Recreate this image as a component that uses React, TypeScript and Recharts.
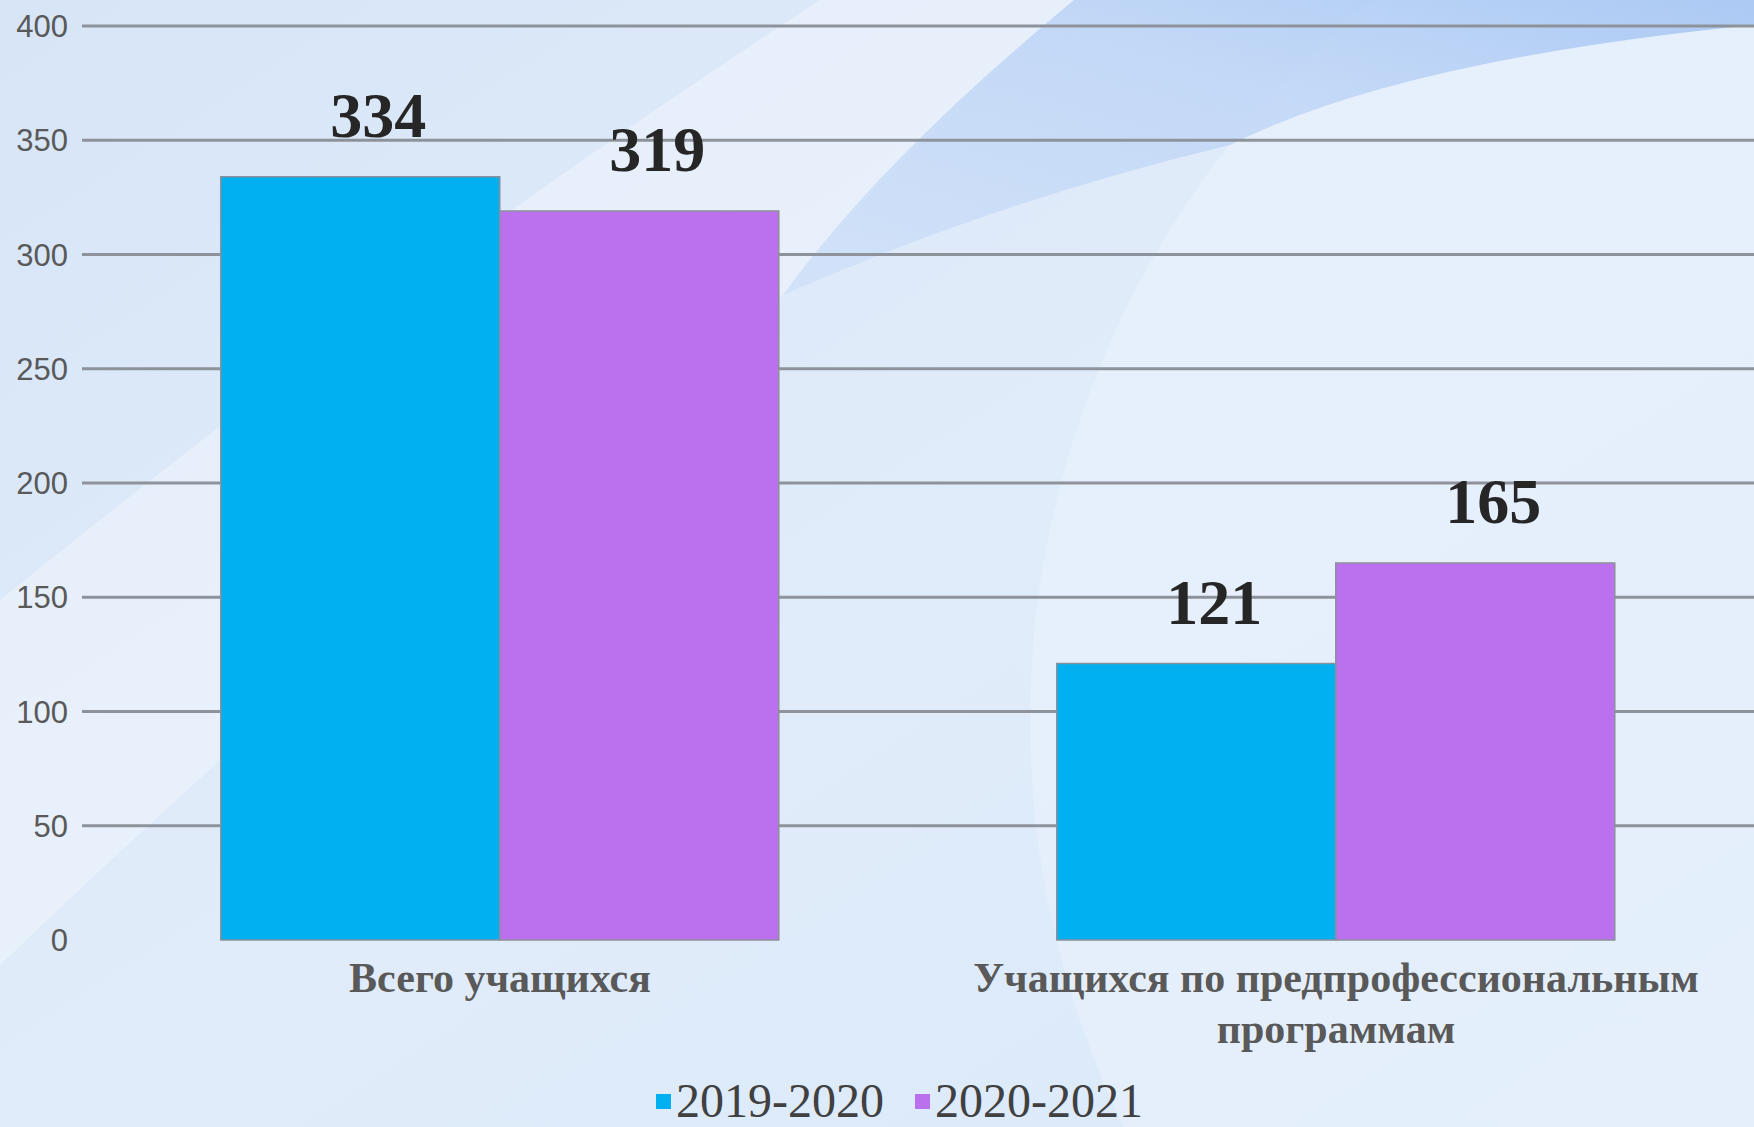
import { BarChart, Bar, XAxis, YAxis, CartesianGrid, Legend, LabelList, Text } from 'recharts';

const categories = ['Всего учащихся', 'Учащихся по предпрофессиональным программам'];
const seriesNames = ['2019-2020', '2020-2021'];
const values2019 = [334, 121];
const values2020 = [319, 165];
const yTicks = [0, 50, 100, 150, 200, 250, 300, 350, 400];
const gridValues = [50, 100, 150, 200, 250, 300, 350, 400];

const colors = ['#00B0F0', '#BB71EE'];

const chartData = categories.map((category, i) => ({
  category,
  s1: values2019[i],
  s2: values2020[i],
}));

const serif = '"Liberation Serif", "Times New Roman", serif';
const catStyle = { fontFamily: serif, fontWeight: 'bold' as const, fontSize: '42px' };

function CategoryTick(props: any) {
  const { x, y, payload } = props;
  return (
    <Text
      x={x}
      y={y + 22}
      width={780}
      textAnchor="middle"
      verticalAnchor="start"
      lineHeight={51}
      style={catStyle}
      fill="#595959"
    >
      {payload.value}
    </Text>
  );
}

function renderValue(p: any) {
  return (
    <text
      x={p.x + p.width / 2 + 18}
      y={p.y - 40}
      textAnchor="middle"
      fontFamily={serif}
      fontWeight="bold"
      fontSize={64}
      fill="#262626"
    >
      {p.value}
    </text>
  );
}

function renderLegend(props: any) {
  const { payload } = props;
  return (
    <div style={{ display: 'flex', alignItems: 'center', height: 40 }}>
      {payload.map((entry: any) => (
        <div key={entry.value} style={{ display: 'flex', alignItems: 'center', marginRight: 31 }}>
          <span style={{ display: 'inline-block', width: 15, height: 15, background: entry.color, marginRight: 5 }} />
          <span style={{ fontFamily: serif, fontSize: 48, lineHeight: '40px', color: '#404040' }}>
            {entry.value}
          </span>
        </div>
      ))}
    </div>
  );
}

function Background() {
  return (
    <svg width={1754} height={1127} style={{ position: 'absolute', left: 0, top: 0 }}>
      <defs>
        <linearGradient id="bg" x1="0" y1="0" x2="1" y2="1">
          <stop offset="0" stopColor="#d7e5f7" />
          <stop offset="0.5" stopColor="#e1ecfa" />
          <stop offset="1" stopColor="#d9e9f9" />
        </linearGradient>
        <linearGradient id="band" x1="0" y1="1" x2="1" y2="0">
          <stop offset="0" stopColor="#cfe0f8" />
          <stop offset="0.6" stopColor="#bcd4f6" />
          <stop offset="1" stopColor="#9dc0f2" />
        </linearGradient>
      </defs>
      <rect width={1754} height={1127} fill="url(#bg)" />
      <circle cx={1960} cy={720} r={930} fill="#e8f1fc" opacity={0.7} />
      <path d="M 0 965 Q 380 600 783 295 Q 900 150 1074 0 L 820 0 Q 420 260 0 600 Z" fill="#ffffff" opacity={0.3} />
      <path d="M 783 295 Q 880 160 1074 0 L 1754 0 L 1754 25 Q 1400 60 1230 145 Q 1000 200 783 295 Z" fill="url(#band)" opacity={0.8} />
    </svg>
  );
}

export default function App() {
  return (
    <div style={{ position: 'fixed', left: 0, top: 0, width: 1754, height: 1127, overflow: 'hidden' }}>
      <Background />
      <div style={{ position: 'absolute', left: 0, top: 0 }}>
        <BarChart
          width={1754}
          height={1127}
          data={chartData}
          margin={{ top: 26, right: 0, left: 0, bottom: 47 }}
          barCategoryGap="16.6%"
          barGap={0}
        >
          <CartesianGrid vertical={false} horizontalValues={gridValues} stroke="#8e939b" strokeWidth={3} />
          <XAxis
            dataKey="category"
            axisLine={false}
            tickLine={false}
            tickSize={0}
            tickMargin={0}
            height={100}
            interval={0}
            tick={<CategoryTick />}
          />
          <YAxis
            domain={[0, 400]}
            ticks={yTicks}
            width={82}
            axisLine={false}
            tickLine={false}
            tickSize={6}
            tickMargin={8}
            tick={{ fill: '#595959', fontSize: 31, fontFamily: '"Liberation Sans", Arial, sans-serif' }}
          />
          <Legend
            verticalAlign="bottom"
            content={renderLegend}
            wrapperStyle={{ left: 656, top: 1081, width: 560, height: 40 }}
          />
          <Bar dataKey="s1" name={seriesNames[0]} fill={colors[0]} stroke="#8a9099" strokeWidth={1.5} isAnimationActive={false}>
            <LabelList dataKey="s1" content={renderValue} />
          </Bar>
          <Bar dataKey="s2" name={seriesNames[1]} fill={colors[1]} stroke="#8a9099" strokeWidth={1.5} isAnimationActive={false}>
            <LabelList dataKey="s2" content={renderValue} />
          </Bar>
        </BarChart>
      </div>
    </div>
  );
}
